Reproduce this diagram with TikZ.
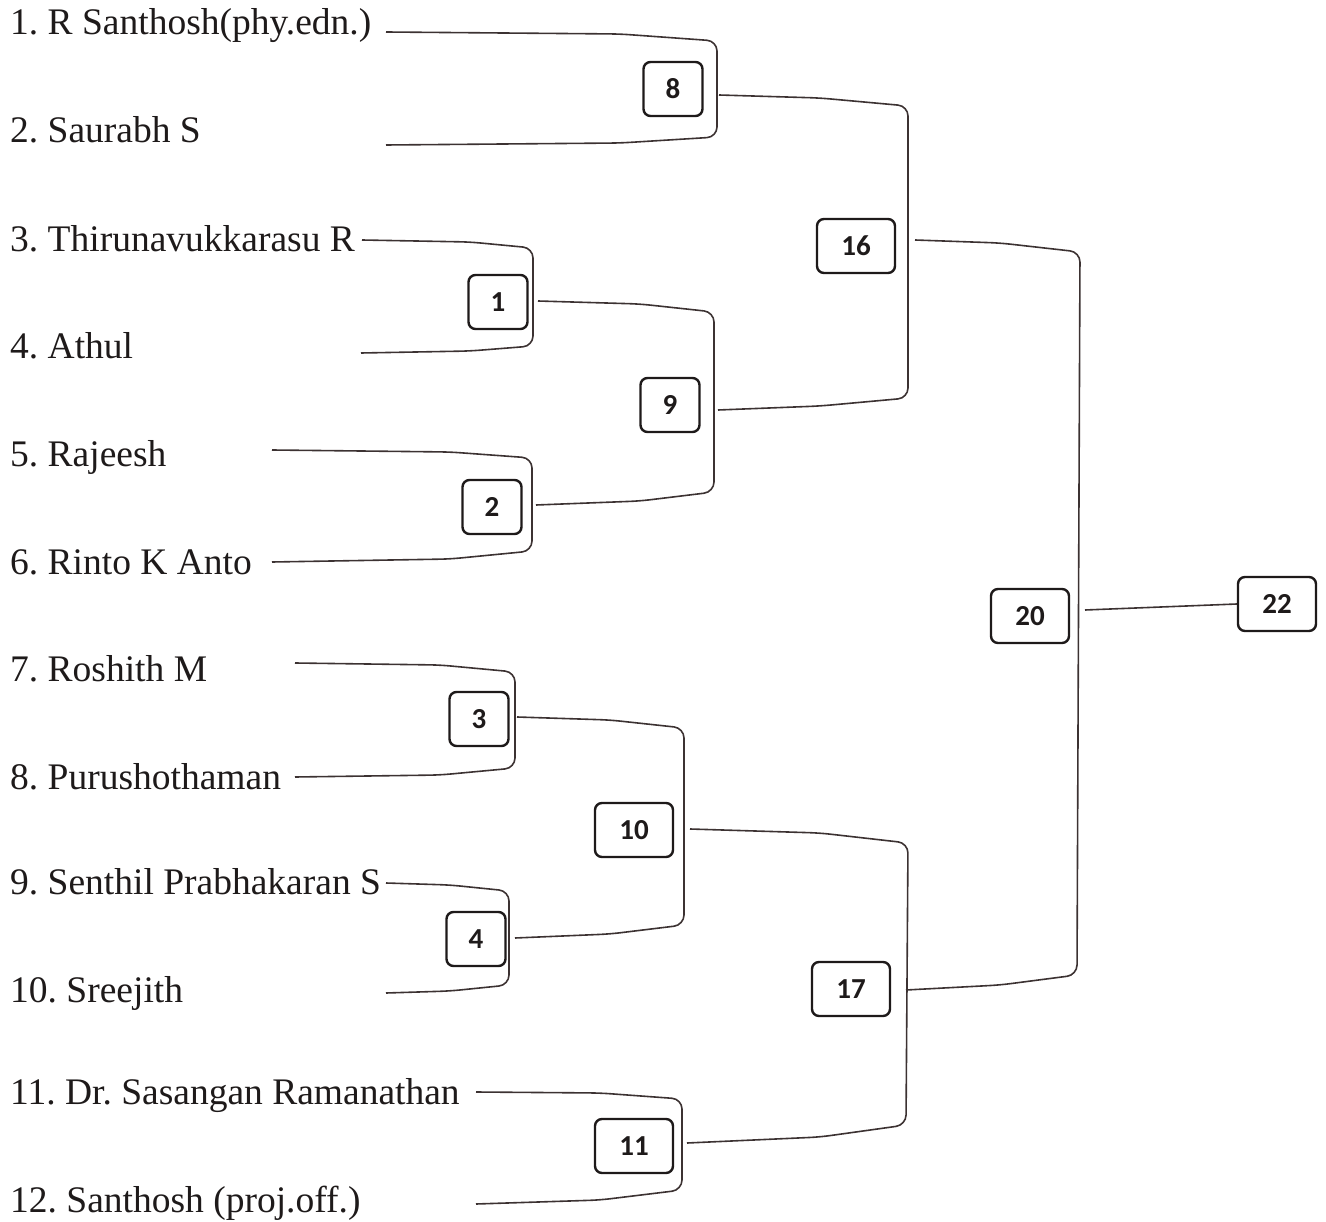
\documentclass[tikz,border=0pt]{standalone}
\usepackage{fontspec}
\setmainfont{Liberation Serif}
\newfontfamily\boxfont{Carlito}
\definecolor{ink}{HTML}{1E1A1A}
\definecolor{wire}{HTML}{3C3232}
\frenchspacing
\begin{document}
\begin{tikzpicture}[x=1pt,y=-1pt,
  pname/.style={anchor=base west,inner sep=0pt,text=ink,font=\frenchspacing\fontsize{37.5}{40}\selectfont},
  bx/.style={draw=ink,line width=2.4pt,rounded corners=7pt,minimum height=54pt,minimum width=59pt,inner sep=0pt,text=ink,font=\boxfont\bfseries\fontsize{29}{31}\selectfont},
  bxw/.style={bx,minimum width=78pt},
  wirel/.style={draw=wire,line width=1.6pt,rounded corners=10pt}]
\useasboundingbox (0,0) rectangle (1326,1222);
% names
\node[pname] (n1) at (10,35) {1. R Santhosh(phy.edn.)};
\node[pname] (n2) at (10,143) {2. Saurabh S};
\node[pname] (n3) at (10,252) {3. Thirunavukkarasu R};
\node[pname] (n4) at (10,359) {4. Athul};
\node[pname] (n5) at (10,467) {5. Rajeesh};
\node[pname] (n6) at (10,574) {6. Rinto K Anto};
\node[pname] (n7) at (10,681) {7. Roshith M};
\node[pname] (n8) at (10,789) {8. Purushothaman};
\node[pname] (n9) at (10,894) {9. Senthil Prabhakaran S};
\node[pname] (n10) at (10,1002) {10. Sreejith};
\node[pname] (n11) at (10,1104) {11. Dr. Sasangan Ramanathan};
\node[pname] (n12) at (10,1212) {12. Santhosh (proj.off.)};
% boxes
\node[bx] (b8) at (673,89) {8};
\node[bx] (b1) at (498,302) {1};
\node[bx] (b2) at (492,507) {2};
\node[bx] (b9) at (670,405) {9};
\node[bxw] (b16) at (856,246) {16};
\node[bx] (b3) at (479,719) {3};
\node[bx] (b4) at (476,939) {4};
\node[bxw] (b10) at (634,830) {10};
\node[bxw] (b11) at (634,1146) {11};
\node[bxw] (b17) at (851,989) {17};
\node[bxw] (b20) at (1030,616) {20};
\node[bxw] (b22) at (1277,604) {22};
% free ends of the brackets
\coordinate (s1) at (386,32);   \coordinate (s2) at (386,145);
\coordinate (s3) at (362,240);  \coordinate (s4) at (361,353);
\coordinate (s5) at (272,450);  \coordinate (s6) at (272,562);
\coordinate (s7) at (295,663);  \coordinate (s8) at (295,777);
\coordinate (s9) at (386,883);  \coordinate (s10) at (386,993);
\coordinate (s11) at (476,1092); \coordinate (s12) at (476,1204);
\coordinate (o8) at (719,95);   \coordinate (o1) at (538,301);
\coordinate (o2) at (536,505);  \coordinate (o9) at (718,410);
\coordinate (o16) at (915,240); \coordinate (o3) at (517,717);
\coordinate (o4) at (515,938);  \coordinate (o10) at (690,829);
\coordinate (o11) at (687,1143); \coordinate (o17) at (906,990);
\coordinate (o20) at (1085,610);
% brackets, first round
\draw[wirel] (s1) -- (620,34) -- (717,41) -- (717,137) -- (620,143) -- (s2);
\draw[wirel] (s3) -- (470,242) -- (533,248) -- (533,346) -- (470,351) -- (s4);
\draw[wirel] (s5) -- (450,452) -- (532,458) -- (532,551) -- (450,559) -- (s6);
\draw[wirel] (s7) -- (440,665) -- (515,672) -- (515,768) -- (440,775) -- (s8);
\draw[wirel] (s9) -- (450,885) -- (509,891) -- (509,985) -- (450,991) -- (s10);
\draw[wirel] (s11) -- (600,1093) -- (682,1099) -- (682,1190) -- (600,1200) -- (s12);
% brackets, later rounds
\draw[wirel] (o8) -- (820,98) -- (908,106) -- (908,398) -- (820,406) -- (o9);
\draw[wirel] (o1) -- (640,304) -- (714,312) -- (714,492) -- (640,501) -- (o2);
\draw[wirel] (o16) -- (1000,243) -- (1080,252) -- (1077,975) -- (1000,985) -- (o17);
\draw[wirel] (o3) -- (610,720) -- (684,728) -- (684,925) -- (610,934) -- (o4);
\draw[wirel] (o10) -- (820,833) -- (908,843) -- (906,1125) -- (820,1137) -- (o11);
\draw[wirel] (o20) -- (b22.west);
\end{tikzpicture}
\end{document}
